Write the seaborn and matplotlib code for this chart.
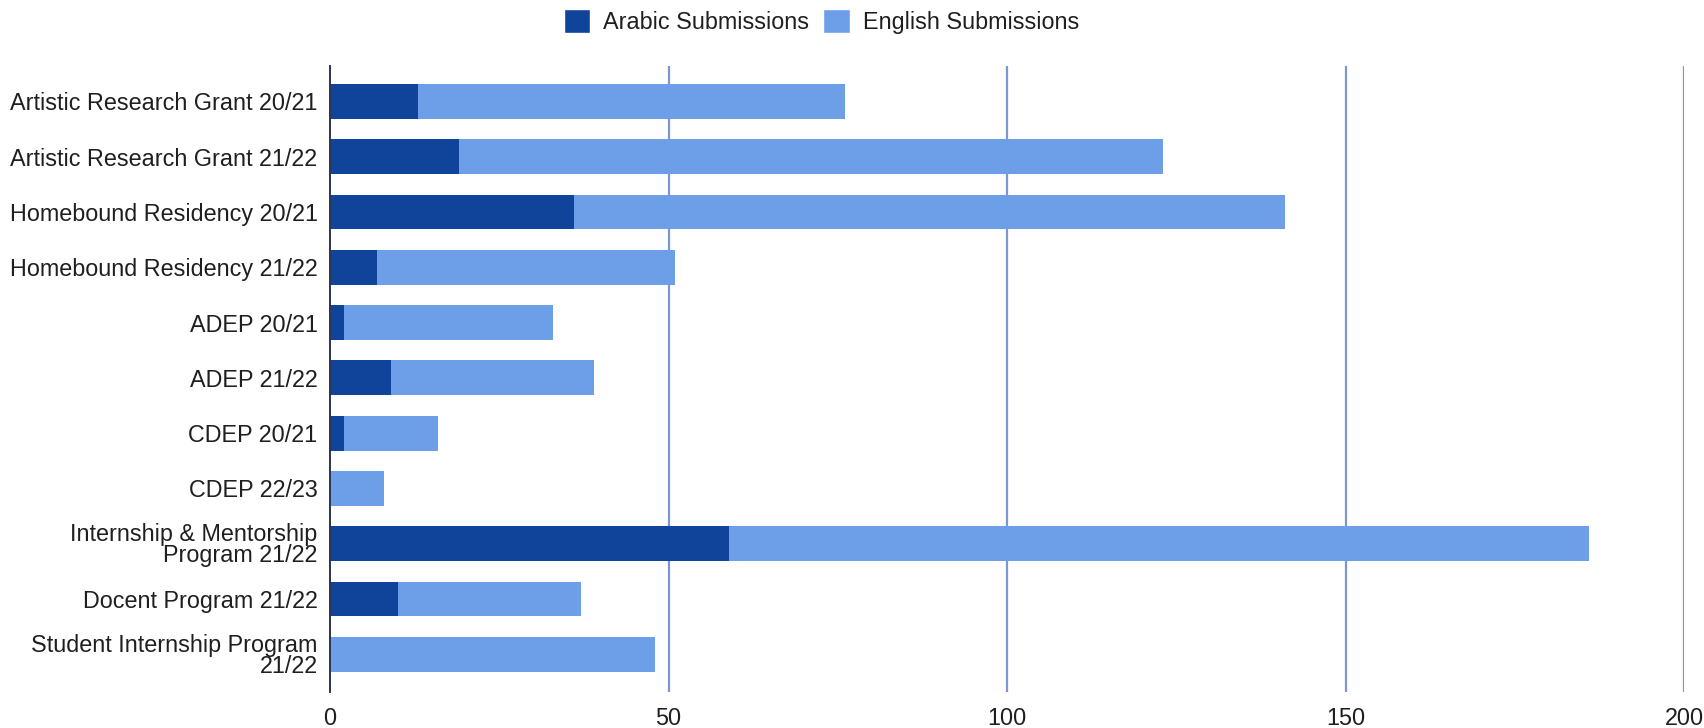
import matplotlib
matplotlib.use("Agg")
import matplotlib.pyplot as plt
import seaborn as sns
import pandas as pd
from matplotlib.patches import Patch

programs = [
    "Artistic Research Grant 20/21",
    "Artistic Research Grant 21/22",
    "Homebound Residency 20/21",
    "Homebound Residency 21/22",
    "ADEP 20/21",
    "ADEP 21/22",
    "CDEP 20/21",
    "CDEP 22/23",
    "Internship & Mentorship\nProgram 21/22",
    "Docent Program 21/22",
    "Student Internship Program\n21/22",
]
arabic = [13, 19, 36, 7, 2, 9, 2, 0, 59, 10, 0]
english = [63, 104, 105, 44, 31, 30, 14, 8, 127, 27, 48]
x_ticks = [0, 50, 100, 150, 200]

dark_blue = "#10439a"
light_blue = "#6d9ee8"
grid_blue = "#7a98cf"
text_color = "#1f1f1f"
fs = 16.8

df = pd.DataFrame({"program": programs, "arabic": arabic, "english": english})
df["total"] = df["arabic"] + df["english"]

sns.set_theme(style="white")
plt.rcParams["font.family"] = ["Liberation Sans", "DejaVu Sans"]

fig = plt.figure(figsize=(17.04, 7.28), dpi=100)
ax = fig.add_axes([0.1937, 0.0495, 0.7946, 0.8598])

# stacked horizontal bars: total (English on top of Arabic), then Arabic segment
sns.barplot(data=df, y="program", x="total", orient="h", color=light_blue,
            saturation=1, width=0.63, ax=ax, zorder=3)
sns.barplot(data=df, y="program", x="arabic", orient="h", color=dark_blue,
            saturation=1, width=0.63, ax=ax, zorder=4)
for p in ax.patches:
    p.set_linewidth(0)

ax.set_xlim(0, 200)
ax.set_ylim(10.68, -0.64)
ax.set_xticks(x_ticks)
ax.set_xticklabels([str(t) for t in x_ticks], fontsize=fs, color=text_color)
ax.tick_params(axis="y", labelsize=fs, labelcolor=text_color, length=0, pad=9)
ax.tick_params(axis="x", length=0, pad=11)
for lbl in ax.get_yticklabels():
    lbl.set_linespacing(0.9)
ax.set_xlabel("")
ax.set_ylabel("")

for t in x_ticks[1:]:
    ax.axvline(t, color=grid_blue, lw=1.6, zorder=1)
for s in ["top", "right", "bottom"]:
    ax.spines[s].set_visible(False)
ax.spines["left"].set_color("#2b3350")
ax.spines["left"].set_linewidth(1.4)
ax.spines["left"].set_zorder(5)

handles = [Patch(facecolor=dark_blue, label="Arabic Submissions"),
           Patch(facecolor=light_blue, label="English Submissions")]
fig.legend(handles=handles, loc="center", bbox_to_anchor=(0.482, 0.970),
           ncol=2, frameon=False, fontsize=fs, handlelength=1.15,
           handleheight=1.2, handletextpad=0.55, columnspacing=0.6,
           labelcolor=text_color)

fig.savefig("out.png", dpi=100, facecolor="white")
